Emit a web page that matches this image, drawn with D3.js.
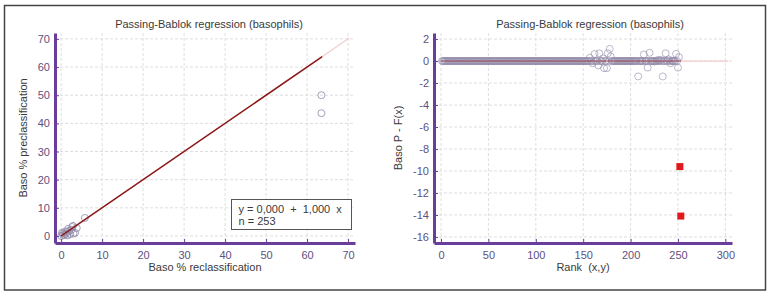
<!DOCTYPE html>
<html>
<head>
<meta charset="utf-8">
<script src="https://cdn.jsdelivr.net/npm/d3@7"></script>
<style>
  body { margin: 0; background: #fff; }
  text { font-family: "Liberation Sans", Arial, sans-serif; }
</style>
</head>
<body>
<div id="chart"></div>
<script>
// ── data ───────────────────────────────────────────────────────
const TITLE = 'Passing-Bablok regression (basophils)'

// left panel: reclassification (x) vs preclassification (y), visible points
const scatterX = [0, 0.2, 0.5, 0.8, 1.0, 1.2, 1.4, 1.7, 2.0, 2.2, 2.5, 2.7, 3.0, 3.4, 3.8, 1.5, 0.4, 2.9, 5.8, 63.5, 63.5]
const scatterY = [0, 1.1, 0.3, 0.4, 1.6, 0.8, 1.4, 2.5, 1.9, 0.6, 2.2, 3.2, 0.9, 1.1, 2.8, 0.2, 0.9, 3.6, 6.4, 50.0, 43.6]
const fitIntercept = 0.0
const fitSlope = 1.0
const fitRange = [0, 63.7]
const nObs = 253

// right panel: residual (P - F(x)) by rank 1..253
const residuals = [
  0, 0, 0, 0, 0, 0, 0, 0, 0, 0, 0, 0, 0, 0, 0, 0, 0, 0, 0, 0, 0, 0, 0, 0, 0,
  0, 0, 0, 0, 0, 0, 0, 0, 0, 0, 0, 0, 0, 0, 0, 0, 0, 0, 0, 0, 0, 0, 0, 0, 0,
  0, 0, 0, 0, 0, 0, 0, 0, 0, 0, 0, 0, 0, 0, 0, 0, 0, 0, 0, 0, 0, 0, 0, 0, 0,
  0, 0, 0, 0, 0, 0, 0, 0, 0, 0, 0, 0, 0, 0, 0, 0, 0, 0, 0, 0, 0, 0, 0, 0, 0,
  0, 0, 0, 0, 0, 0, 0, 0, 0, 0, 0, 0, 0, 0, 0, 0, 0, 0, 0, 0, 0, 0, 0, 0, 0,
  0, 0, 0, 0, 0, 0, 0, 0, 0, 0, 0, 0, 0, 0, 0, 0, 0, 0, 0, 0, 0, 0, 0, 0, 0,
  0, 0, 0, 0, 0, 0, 0.3, 0, 0, -0.2, 0, 0.64, 0, 0, 0, -0.4, 0.7, 0, 0, 0, 0.25, -0.65, 0, 0, -0.65,
  0.7, 0, 1.1, 0.4, 0, 0, 0, 0, 0, 0, 0, 0, 0, 0, 0, 0, 0, 0, 0, 0, 0, 0, 0, 0, 0,
  0, 0, 0, 0, 0, 0, 0, -1.4, 0, 0, 0, 0, 0, 0.6, 0, 0, 0, -0.6, 0, 0.75, 0, 0, 0, 0, -0.05,
  0, 0, 0, 0.1, 0, 0, 0.1, 0, -1.4, 0, 0, 0.7, 0, 0, 0.15, 0, -0.2, 0, 0, 0, 0, 0, 0.65, 0, -0.6,
  0.35, -9.6, -14.1
]
const outlierRanks = [252, 253]

const xTicksL = [0, 10, 20, 30, 40, 50, 60, 70]
const yTicksL = [0, 10, 20, 30, 40, 50, 60, 70]
const xTicksR = [0, 50, 100, 150, 200, 250, 300]
const yTicksR = [2, 0, -2, -4, -6, -8, -10, -12, -14, -16]

// ── styles ─────────────────────────────────────────────────────
const AXIS_COLOR = '#6a3d9a'
const LABEL_COLOR = '#5e5080'
const TEXT_COLOR = '#3a3a3a'
const GRID_COLOR = '#dedede'
const FIT_COLOR = '#8b1a1a'
const IDENT_COLOR = '#f2cccc'
const CIRCLE_COLOR = '#9088a8'

const W = 770, H = 296
const svg = d3.select('#chart').append('svg').attr('width', W).attr('height', H)

svg.append('rect')
  .attr('x', 4.5).attr('y', 5.5).attr('width', 761).attr('height', 284.5)
  .attr('fill', 'none').attr('stroke', '#444').attr('stroke-width', 1.5)

function panel({ x, y, xTicks, yTicks, titleX, xLabel, yLabel, yLabelX }) {
  const g = svg.append('g')
  const [x0, x1] = x.range()
  const [y0, y1] = y.range()

  // grid
  g.append('g').selectAll('line.v').data(xTicks).enter().append('line')
    .attr('x1', d => x(d)).attr('x2', d => x(d)).attr('y1', y1).attr('y2', y0)
    .attr('stroke', GRID_COLOR).attr('stroke-dasharray', '3,2')
  g.append('g').selectAll('line.h').data(yTicks).enter().append('line')
    .attr('x1', x0).attr('x2', x1).attr('y1', d => y(d)).attr('y2', d => y(d))
    .attr('stroke', GRID_COLOR).attr('stroke-dasharray', '3,2')

  const marks = g.append('g')

  // axes
  const ax = g.append('g').attr('transform', `translate(0,${y0})`)
    .call(d3.axisBottom(x).tickValues(xTicks).tickSizeInner(-4).tickSizeOuter(0).tickPadding(8).tickFormat(d => String(d)))
  const ay = g.append('g').attr('transform', `translate(${x0},0)`)
    .call(d3.axisLeft(y).tickValues(yTicks).tickSizeInner(-4).tickSizeOuter(0).tickPadding(5).tickFormat(d => String(d)))
  ;[ax, ay].forEach(a => {
    a.select('.domain').attr('stroke', AXIS_COLOR).attr('stroke-width', 3)
    a.selectAll('.tick line').attr('stroke', AXIS_COLOR)
    a.selectAll('.tick text').attr('fill', LABEL_COLOR).style('font-size', '11px')
      .style('font-family', '"Liberation Sans", Arial, sans-serif')
  })

  // titles
  g.append('text').attr('x', titleX).attr('y', 28).attr('text-anchor', 'middle')
    .attr('fill', TEXT_COLOR).style('font-size', '11px').text(TITLE)
  g.append('text').attr('x', (x0 + x1) / 2).attr('y', 271).attr('text-anchor', 'middle')
    .attr('fill', TEXT_COLOR).style('font-size', '11px').style('white-space', 'pre').text(xLabel)
  g.append('text').attr('transform', `translate(${yLabelX},${(y0 + y1) / 2}) rotate(-90)`)
    .attr('text-anchor', 'middle').attr('fill', TEXT_COLOR).style('font-size', '11px').text(yLabel)

  return marks
}

// ── left panel ─────────────────────────────────────────────────
const xL = d3.scaleLinear().domain([-1.5, 71.7]).range([55, 355])
const yL = d3.scaleLinear().domain([-2.5, 72.1]).range([243, 33])
const mL = panel({ x: xL, y: yL, xTicks: xTicksL, yTicks: yTicksL, titleX: 209,
  xLabel: 'Baso % reclassification', yLabel: 'Baso % preclassification', yLabelX: 27 })

mL.append('line')
  .attr('x1', xL(0)).attr('y1', yL(0)).attr('x2', xL(70.3)).attr('y2', yL(70.3))
  .attr('stroke', IDENT_COLOR).attr('stroke-width', 1.2)
mL.selectAll('circle').data(scatterX).enter().append('circle')
  .attr('cx', d => xL(d)).attr('cy', (_, i) => yL(scatterY[i])).attr('r', 3.5)
  .attr('fill', 'none').attr('stroke', CIRCLE_COLOR).attr('stroke-width', 0.8)
mL.append('line')
  .attr('x1', xL(fitRange[0])).attr('y1', yL(fitIntercept + fitSlope * fitRange[0]))
  .attr('x2', xL(fitRange[1])).attr('y2', yL(fitIntercept + fitSlope * fitRange[1]))
  .attr('stroke', FIT_COLOR).attr('stroke-width', 1.5)

const box = mL.append('g').attr('transform', 'translate(231.5,199.5)')
box.append('rect').attr('width', 120).attr('height', 30)
  .attr('fill', '#fff').attr('stroke', '#555').attr('stroke-width', 1)
box.append('text').attr('x', 7).attr('y', 13).attr('fill', TEXT_COLOR).style('font-size', '11px')
  .style('white-space', 'pre').text('y = 0,000  +  1,000  x')
box.append('text').attr('x', 7).attr('y', 25).attr('fill', TEXT_COLOR).style('font-size', '11px')
  .text(`n = ${nObs}`)

// ── right panel ────────────────────────────────────────────────
const xR = d3.scaleLinear().domain([-7.4, 307]).range([434, 732])
const yR = d3.scaleLinear().domain([-16.55, 2.55]).range([243, 33])
const mR = panel({ x: xR, y: yR, xTicks: xTicksR, yTicks: yTicksR, titleX: 590,
  xLabel: 'Rank  (x,y)', yLabel: 'Baso P - F(x)', yLabelX: 402 })

const pts = residuals.map((r, i) => ({ rank: i + 1, r }))
mR.append('line')
  .attr('x1', xR(0)).attr('x2', xR(303)).attr('y1', yR(0)).attr('y2', yR(0))
  .attr('stroke', IDENT_COLOR).attr('stroke-width', 1.2)
mR.selectAll('circle').data(pts.filter(d => !outlierRanks.includes(d.rank))).enter().append('circle')
  .attr('cx', d => xR(d.rank)).attr('cy', d => yR(d.r)).attr('r', 3.5)
  .attr('fill', 'none').attr('stroke', CIRCLE_COLOR).attr('stroke-width', 0.6)
mR.append('line')
  .attr('x1', xR(0)).attr('x2', xR(253)).attr('y1', yR(0)).attr('y2', yR(0))
  .attr('stroke', FIT_COLOR).attr('stroke-width', 1).attr('stroke-opacity', 0.6)
mR.selectAll('rect').data(pts.filter(d => outlierRanks.includes(d.rank))).enter().append('rect')
  .attr('x', d => xR(d.rank) - 3.5).attr('y', d => yR(d.r) - 3.5)
  .attr('width', 7).attr('height', 7).attr('fill', '#e0191f')
</script>
</body>
</html>
